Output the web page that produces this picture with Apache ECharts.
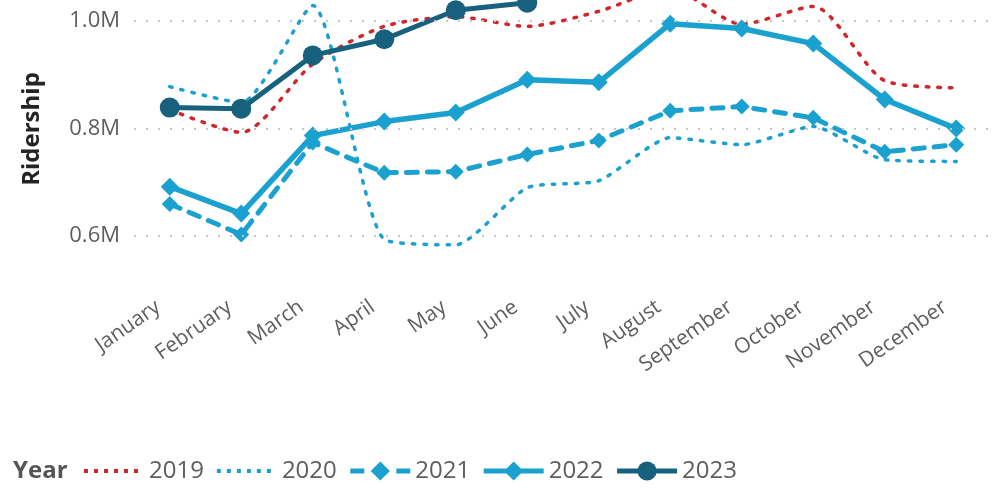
<!DOCTYPE html>
<html><head><meta charset="utf-8">
<script src="https://cdn.jsdelivr.net/npm/echarts@6/dist/echarts.min.js"></script>
<style>html,body{margin:0;padding:0;background:#fff}#c{width:995px;height:488px}</style>
</head><body><div id="c"></div>
<script>
const months = ['January','February','March','April','May','June','July','August','September','October','November','December'];
const y2019 = [0.835, 0.793, 0.920, 0.990, 1.008, 0.990, 1.018, 1.060, 0.994, 1.027, 0.889, 0.876];
const y2020 = [0.878, 0.848, 1.029, 0.594, 0.584, 0.690, 0.703, 0.783, 0.770, 0.804, 0.742, 0.739];
const y2021 = [0.660, 0.603, 0.774, 0.718, 0.720, 0.752, 0.778, 0.833, 0.841, 0.820, 0.757, 0.770];
const y2022 = [0.692, 0.642, 0.787, 0.813, 0.830, 0.891, 0.886, 0.995, 0.986, 0.958, 0.854, 0.800];
const y2023 = [0.839, 0.837, 0.936, 0.966, 1.020, 1.034];
const gridTicks = [0.6, 0.8, 1.0];
const yMin = 0.5, yMax = 1.039;

const FONT = 'Open Sans';
const TXT = '#605E5C';
const RED = '#D1242B', LB = '#1BA1CF', DK = '#17617E';

const chart = echarts.init(document.getElementById('c'));
chart.setOption({
  animation: false,
  textStyle: { fontFamily: FONT },
  title: { text: 'Year', left: 8, top: 454, textStyle: { fontFamily: FONT, fontSize: 24, fontWeight: 'bold', color: '#555' } },
  legend: {
    left: 82, top: 459, padding: 0, itemWidth: 60, itemHeight: 24, itemGap: 11,
    textStyle: { fontFamily: FONT, fontSize: 24, color: TXT, padding: [0, 0, 0, 0] },
    data: [
      { name: '2019', itemStyle: { opacity: 0 }, lineStyle: { width: 4, type: [4, 6], cap: 'butt' } },
      { name: '2020', itemStyle: { opacity: 0 }, lineStyle: { width: 4, type: [4, 6], cap: 'butt' } },
      { name: '2021', lineStyle: { width: 5, type: [14, 32], cap: 'butt' } },
      { name: '2022', lineStyle: { width: 5 } },
      { name: '2023', lineStyle: { width: 5 } }
    ]
  },
  grid: { left: 134, right: 3, top: 0, bottom: 198, containLabel: false },
  xAxis: {
    type: 'category', data: months, boundaryGap: true,
    axisLine: { show: false }, axisTick: { show: false },
    axisLabel: { rotate: 35, fontSize: 21, color: TXT, fontFamily: FONT, margin: 7, interval: 0, padding: [0, 14, 0, 0] }
  },
  yAxis: {
    type: 'value', min: yMin, max: yMax, interval: 0.1,
    splitLine: { show: false }, axisLine: { show: false }, axisTick: { show: false },
    axisLabel: {
      fontSize: 22, color: TXT, fontFamily: FONT, margin: 14,
      formatter: v => gridTicks.some(t => Math.abs(t - v) < 1e-6) ? v.toFixed(1) + 'M' : ''
    },
    name: 'Ridership', nameLocation: 'middle', nameGap: 90,
    nameTextStyle: { fontFamily: FONT, fontSize: 24, fontWeight: 'bold', color: '#252423', padding: [0, 0, 0, 32] }
  },
  series: [
    {
      name: '2019', type: 'line', data: y2019, smooth: 0.25, symbol: 'none',
      lineStyle: { color: RED, width: 3.5, type: [2.5, 9], cap: 'round' }, itemStyle: { color: RED },
      markLine: {
        silent: true, symbol: 'none', label: { show: false },
        lineStyle: { color: '#C8C6C4', width: 2, type: [2, 10] },
        data: gridTicks.map(t => ({ yAxis: t }))
      }
    },
    {
      name: '2020', type: 'line', data: y2020, smooth: 0.2, symbol: 'none',
      lineStyle: { color: LB, width: 3.5, type: [2.5, 9], cap: 'round' }, itemStyle: { color: LB }
    },
    {
      name: '2021', type: 'line', data: y2021, symbol: 'diamond', symbolSize: 16,
      lineStyle: { color: LB, width: 5, type: [11, 10], cap: 'round' }, itemStyle: { color: LB }
    },
    {
      name: '2022', type: 'line', data: y2022, symbol: 'diamond', symbolSize: 18,
      lineStyle: { color: LB, width: 5.5 }, itemStyle: { color: LB }
    },
    {
      name: '2023', type: 'line', data: y2023, symbol: 'circle', symbolSize: 20,
      lineStyle: { color: DK, width: 5 }, itemStyle: { color: DK }
    }
  ]
});
</script></body></html>
